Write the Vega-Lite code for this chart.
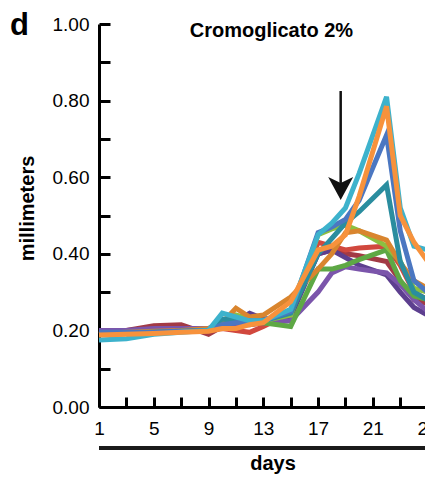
{
"$schema":"https://vega.github.io/schema/vega-lite/v6.json",
"autosize":{"type":"none"},
"padding":{"left":99,"top":24,"right":0,"bottom":72},
"width":326,"height":383,
"config":{"view":{"stroke":null},"font":"Liberation Sans"},
"resolve":{"axis":{"x":"independent","y":"independent"}},
"layer":[
{"data":{"values":[
{"s":"s01","d":1,"v":0.195},{"s":"s01","d":3,"v":0.2},{"s":"s01","d":5,"v":0.212},{"s":"s01","d":7,"v":0.215},{"s":"s01","d":9,"v":0.19},{"s":"s01","d":10,"v":0.21},{"s":"s01","d":11,"v":0.215},{"s":"s01","d":12,"v":0.215},{"s":"s01","d":13,"v":0.22},{"s":"s01","d":15,"v":0.25},{"s":"s01","d":17,"v":0.4},{"s":"s01","d":18,"v":0.41},{"s":"s01","d":19,"v":0.4},{"s":"s01","d":20,"v":0.395},{"s":"s01","d":22,"v":0.38},{"s":"s01","d":23,"v":0.33},{"s":"s01","d":24,"v":0.28},{"s":"s01","d":25,"v":0.27},
{"s":"s02","d":1,"v":0.192},{"s":"s02","d":3,"v":0.195},{"s":"s02","d":5,"v":0.198},{"s":"s02","d":7,"v":0.2},{"s":"s02","d":9,"v":0.2},{"s":"s02","d":10,"v":0.205},{"s":"s02","d":11,"v":0.2},{"s":"s02","d":12,"v":0.195},{"s":"s02","d":13,"v":0.21},{"s":"s02","d":15,"v":0.245},{"s":"s02","d":17,"v":0.43},{"s":"s02","d":18,"v":0.42},{"s":"s02","d":19,"v":0.41},{"s":"s02","d":20,"v":0.415},{"s":"s02","d":22,"v":0.42},{"s":"s02","d":23,"v":0.37},{"s":"s02","d":24,"v":0.3},{"s":"s02","d":25,"v":0.28},
{"s":"s03","d":1,"v":0.2},{"s":"s03","d":3,"v":0.2},{"s":"s03","d":5,"v":0.203},{"s":"s03","d":7,"v":0.205},{"s":"s03","d":9,"v":0.205},{"s":"s03","d":10,"v":0.215},{"s":"s03","d":11,"v":0.225},{"s":"s03","d":12,"v":0.245},{"s":"s03","d":13,"v":0.23},{"s":"s03","d":15,"v":0.235},{"s":"s03","d":17,"v":0.4},{"s":"s03","d":18,"v":0.41},{"s":"s03","d":19,"v":0.39},{"s":"s03","d":20,"v":0.37},{"s":"s03","d":22,"v":0.345},{"s":"s03","d":23,"v":0.3},{"s":"s03","d":24,"v":0.26},{"s":"s03","d":25,"v":0.24},
{"s":"s04","d":1,"v":0.2},{"s":"s04","d":3,"v":0.2},{"s":"s04","d":5,"v":0.205},{"s":"s04","d":7,"v":0.205},{"s":"s04","d":9,"v":0.205},{"s":"s04","d":10,"v":0.21},{"s":"s04","d":11,"v":0.215},{"s":"s04","d":12,"v":0.225},{"s":"s04","d":13,"v":0.22},{"s":"s04","d":15,"v":0.225},{"s":"s04","d":17,"v":0.3},{"s":"s04","d":18,"v":0.35},{"s":"s04","d":19,"v":0.366},{"s":"s04","d":20,"v":0.36},{"s":"s04","d":22,"v":0.35},{"s":"s04","d":23,"v":0.32},{"s":"s04","d":24,"v":0.28},{"s":"s04","d":25,"v":0.25},
{"s":"s05","d":1,"v":0.19},{"s":"s05","d":3,"v":0.192},{"s":"s05","d":5,"v":0.195},{"s":"s05","d":7,"v":0.198},{"s":"s05","d":9,"v":0.2},{"s":"s05","d":10,"v":0.22},{"s":"s05","d":11,"v":0.225},{"s":"s05","d":12,"v":0.22},{"s":"s05","d":13,"v":0.22},{"s":"s05","d":15,"v":0.21},{"s":"s05","d":17,"v":0.36},{"s":"s05","d":18,"v":0.36},{"s":"s05","d":19,"v":0.37},{"s":"s05","d":20,"v":0.385},{"s":"s05","d":22,"v":0.41},{"s":"s05","d":23,"v":0.33},{"s":"s05","d":24,"v":0.29},{"s":"s05","d":25,"v":0.28},
{"s":"s06","d":1,"v":0.19},{"s":"s06","d":3,"v":0.192},{"s":"s06","d":5,"v":0.195},{"s":"s06","d":7,"v":0.198},{"s":"s06","d":9,"v":0.2},{"s":"s06","d":10,"v":0.215},{"s":"s06","d":11,"v":0.24},{"s":"s06","d":12,"v":0.23},{"s":"s06","d":13,"v":0.225},{"s":"s06","d":15,"v":0.24},{"s":"s06","d":17,"v":0.45},{"s":"s06","d":18,"v":0.465},{"s":"s06","d":19,"v":0.475},{"s":"s06","d":20,"v":0.46},{"s":"s06","d":22,"v":0.42},{"s":"s06","d":23,"v":0.38},{"s":"s06","d":24,"v":0.31},{"s":"s06","d":25,"v":0.3},
{"s":"s07","d":1,"v":0.192},{"s":"s07","d":3,"v":0.195},{"s":"s07","d":5,"v":0.198},{"s":"s07","d":7,"v":0.2},{"s":"s07","d":9,"v":0.205},{"s":"s07","d":10,"v":0.22},{"s":"s07","d":11,"v":0.258},{"s":"s07","d":12,"v":0.235},{"s":"s07","d":13,"v":0.24},{"s":"s07","d":15,"v":0.287},{"s":"s07","d":17,"v":0.36},{"s":"s07","d":18,"v":0.4},{"s":"s07","d":19,"v":0.455},{"s":"s07","d":20,"v":0.46},{"s":"s07","d":22,"v":0.436},{"s":"s07","d":23,"v":0.376},{"s":"s07","d":24,"v":0.33},{"s":"s07","d":25,"v":0.31},
{"s":"s08","d":1,"v":0.19},{"s":"s08","d":3,"v":0.192},{"s":"s08","d":5,"v":0.195},{"s":"s08","d":7,"v":0.198},{"s":"s08","d":9,"v":0.2},{"s":"s08","d":10,"v":0.23},{"s":"s08","d":11,"v":0.225},{"s":"s08","d":12,"v":0.22},{"s":"s08","d":13,"v":0.225},{"s":"s08","d":15,"v":0.245},{"s":"s08","d":17,"v":0.4},{"s":"s08","d":18,"v":0.44},{"s":"s08","d":19,"v":0.48},{"s":"s08","d":20,"v":0.51},{"s":"s08","d":22,"v":0.58},{"s":"s08","d":23,"v":0.38},{"s":"s08","d":24,"v":0.3},{"s":"s08","d":25,"v":0.28},
{"s":"s09","d":1,"v":0.195},{"s":"s09","d":3,"v":0.195},{"s":"s09","d":5,"v":0.195},{"s":"s09","d":7,"v":0.198},{"s":"s09","d":9,"v":0.2},{"s":"s09","d":10,"v":0.215},{"s":"s09","d":11,"v":0.22},{"s":"s09","d":12,"v":0.225},{"s":"s09","d":13,"v":0.225},{"s":"s09","d":15,"v":0.25},{"s":"s09","d":17,"v":0.455},{"s":"s09","d":18,"v":0.47},{"s":"s09","d":19,"v":0.49},{"s":"s09","d":20,"v":0.54},{"s":"s09","d":22,"v":0.71},{"s":"s09","d":23,"v":0.46},{"s":"s09","d":24,"v":0.33},{"s":"s09","d":25,"v":0.3},
{"s":"s10","d":1,"v":0.175},{"s":"s10","d":3,"v":0.178},{"s":"s10","d":5,"v":0.19},{"s":"s10","d":7,"v":0.195},{"s":"s10","d":9,"v":0.2},{"s":"s10","d":10,"v":0.245},{"s":"s10","d":11,"v":0.235},{"s":"s10","d":12,"v":0.225},{"s":"s10","d":13,"v":0.225},{"s":"s10","d":15,"v":0.255},{"s":"s10","d":17,"v":0.45},{"s":"s10","d":18,"v":0.48},{"s":"s10","d":19,"v":0.52},{"s":"s10","d":20,"v":0.61},{"s":"s10","d":22,"v":0.81},{"s":"s10","d":23,"v":0.52},{"s":"s10","d":24,"v":0.42},{"s":"s10","d":25,"v":0.41},
{"s":"s11","d":1,"v":0.188},{"s":"s11","d":3,"v":0.19},{"s":"s11","d":5,"v":0.192},{"s":"s11","d":7,"v":0.195},{"s":"s11","d":9,"v":0.198},{"s":"s11","d":10,"v":0.205},{"s":"s11","d":11,"v":0.205},{"s":"s11","d":12,"v":0.215},{"s":"s11","d":13,"v":0.22},{"s":"s11","d":15,"v":0.275},{"s":"s11","d":17,"v":0.41},{"s":"s11","d":18,"v":0.42},{"s":"s11","d":19,"v":0.45},{"s":"s11","d":20,"v":0.55},{"s":"s11","d":22,"v":0.785},{"s":"s11","d":23,"v":0.5},{"s":"s11","d":24,"v":0.43},{"s":"s11","d":25,"v":0.38}
]},
"mark":{"type":"line","strokeWidth":5,"clip":false},
"encoding":{
"x":{"field":"d","type":"quantitative","scale":{"domain":[1,25.1],"range":[0,330],"nice":false,"zero":false},
"axis":{"orient":"bottom","title":null,"values":[1,5,9,13,17,21,25],"grid":false,"ticks":false,"domainWidth":3,"domainColor":"black","labelFontSize":19,"labelColor":"black","labelPadding":12,"labelFlush":false,"labelOverlap":false,"labelBound":false}},
"y":{"field":"v","type":"quantitative","scale":{"domain":[0,1],"nice":false,"zero":false},
"axis":{"orient":"left","title":"millimeters","values":[0,0.2,0.4,0.6,0.8,1.0],"format":".2f","grid":false,"ticks":false,"domainWidth":3,"domainColor":"black","labelFontSize":19,"labelColor":"black","labelPadding":10,"labelFlush":false,"labelOverlap":false,
"titleFontSize":20,"titleFontWeight":"bold","titleColor":"black","titleX":-72,"titleY":184,"titleAlign":"center","titleBaseline":"middle","titleAngle":270}},
"color":{"field":"s","type":"nominal","legend":null,"scale":{"domain":["s01","s02","s03","s04","s05","s06","s07","s08","s09","s10","s11"],"range":["#A23A45","#D1483E","#5D3F8F","#7B55AB","#5EA845","#8CC041","#D9852E","#2A8D9F","#4B77C1","#3DB2CC","#F7923C"]}}
}},
{"data":{"values":[{}]},"mark":{"type":"rule","strokeWidth":2.5,"color":"#111111","clip":false},
"encoding":{"x":{"datum":18.65,"type":"quantitative","axis":{"orient":"top","offset":-383,"title":null,"values":[1,3,5,7,9,11,13,15,17,19,21,23,25],"labels":false,"domain":false,"grid":false,"ticks":true,"tickSize":10,"tickWidth":3,"tickColor":"black"}},
"y":{"datum":0.825,"type":"quantitative","axis":{"orient":"right","offset":-326,"title":null,"values":[0,0.1,0.2,0.3,0.4,0.5,0.6,0.7,0.8,0.9,1.0],"labels":false,"domain":false,"grid":false,"ticks":true,"tickSize":11,"tickWidth":3,"tickColor":"black"}},"y2":{"datum":0.585}}},
{"data":{"values":[{}]},"mark":{"type":"point","filled":true,"color":"#111111","opacity":1,"size":625,"shape":"M-1,-0.92L0,-0.44L1,-0.92L0,0.92Z","clip":false},
"encoding":{"x":{"datum":18.65,"type":"quantitative","axis":null},"y":{"datum":0.5705,"type":"quantitative","axis":null}}},
{"data":{"values":[{}]},"mark":{"type":"rule","strokeWidth":4,"color":"#1a1a1a","clip":false},
"encoding":{"x":{"datum":1,"type":"quantitative","axis":null},"x2":{"datum":25.1},"y":{"datum":-0.107,"type":"quantitative","axis":null}}},
{"data":{"values":[{}]},"mark":{"type":"text","text":"d","fontSize":31,"fontWeight":"bold","align":"left","baseline":"alphabetic","color":"black","clip":false},
"encoding":{"x":{"datum":-5.5,"type":"quantitative","axis":null},"y":{"datum":0.971,"type":"quantitative","axis":null}}},
{"data":{"values":[{}]},"mark":{"type":"text","text":"Cromoglicato 2%","fontSize":20,"fontWeight":"bold","align":"center","baseline":"alphabetic","color":"black","clip":false},
"encoding":{"x":{"datum":13.59,"type":"quantitative","axis":null},"y":{"datum":0.965,"type":"quantitative","axis":null}}},
{"data":{"values":[{}]},"mark":{"type":"text","text":"days","fontSize":20,"fontWeight":"bold","align":"center","baseline":"alphabetic","color":"black","clip":false},
"encoding":{"x":{"datum":13.71,"type":"quantitative","axis":null},"y":{"datum":-0.1645,"type":"quantitative","axis":null}}}
]
}
